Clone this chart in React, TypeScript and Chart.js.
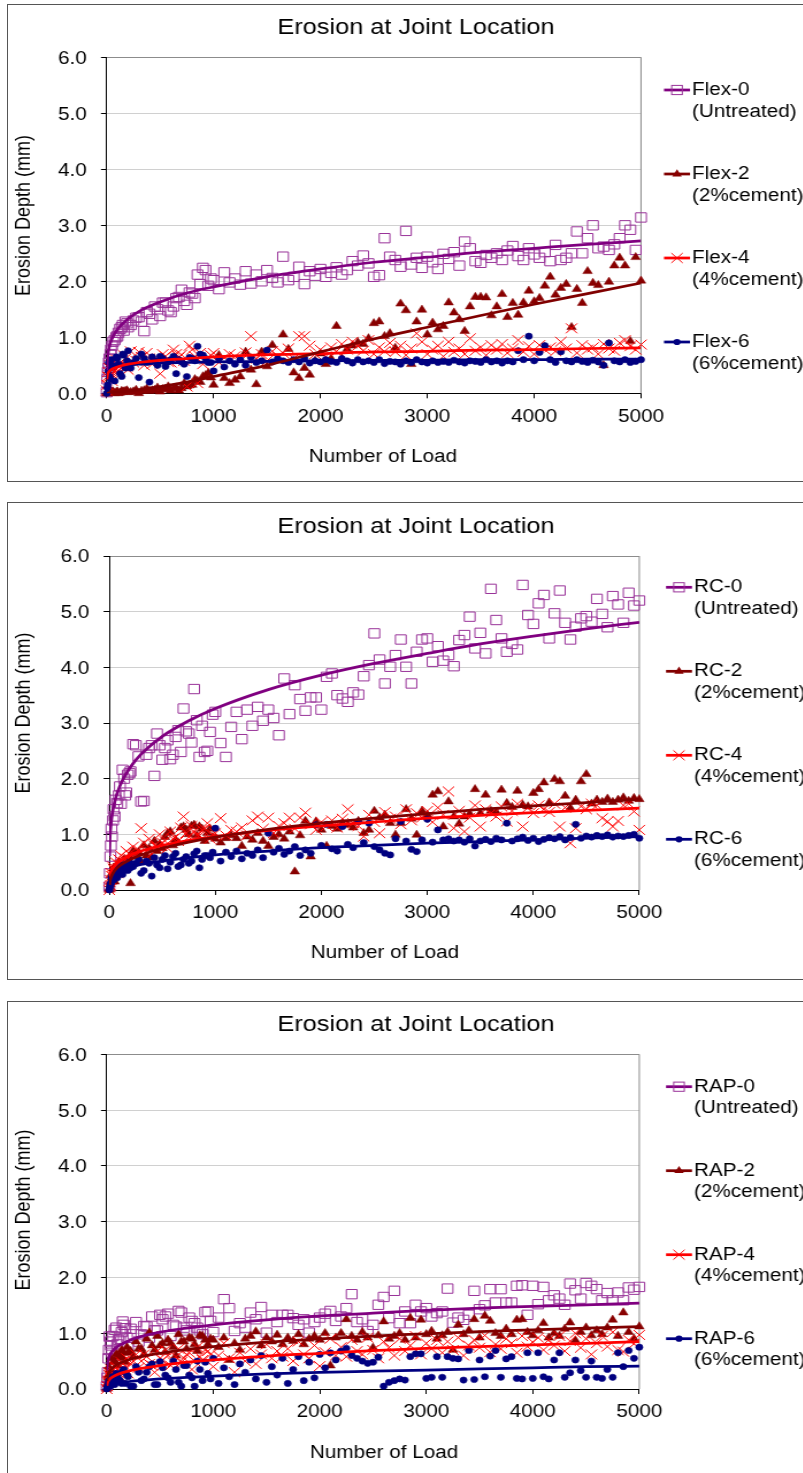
import React, { useEffect, useRef } from 'react';
import { Chart, registerables } from 'chart.js';

Chart.register(...registerables);

// ---------------- DATA ----------------
const LOADS = [
  0, 10, 25, 50, 75, 100, 125, 150, 175,
  200, 250, 300, 350, 400, 450, 500, 550, 600, 650,
  700, 750, 800, 850, 900, 950, 1000, 1050, 1100, 1150,
  1200, 1250, 1300, 1350, 1400, 1450, 1500, 1550, 1600, 1650,
  1700, 1750, 1800, 1850, 1900, 1950, 2000, 2050, 2100, 2150,
  2200, 2250, 2300, 2350, 2400, 2450, 2500, 2550, 2600, 2650,
  2700, 2750, 2800, 2850, 2900, 2950, 3000, 3050, 3100, 3150,
  3200, 3250, 3300, 3350, 3400, 3450, 3500, 3550, 3600, 3650,
  3700, 3750, 3800, 3850, 3900, 3950, 4000, 4050, 4100, 4150,
  4200, 4250, 4300, 4350, 4400, 4450, 4500, 4550, 4600, 4650,
  4700, 4750, 4800, 4850, 4900, 4950, 5000,
];

// extra (denser) early readings
const LOADS_EARLY = [5, 15, 20, 35, 40, 60, 90, 110, 140, 160, 190, 225, 275, 325, 375, 425, 475, 525, 575, 625, 675, 725, 775, 825, 875, 925, 975];

const TREND_LOADS = [1, 5, 10, 25, 50, 100, 200, 300, 500, 750, 1000, 1500, 2000, 2500, 3000, 3500, 4000, 4500, 5000];

const X_TICKS = [0, 1000, 2000, 3000, 4000, 5000];
const Y_TICKS = [0, 1, 2, 3, 4, 5, 6];

const TITLE = 'Erosion at Joint Location';
const X_TITLE = 'Number of Load';
const Y_TITLE = 'Erosion Depth (mm)';

// Panel 1 — Flex
const FLEX_0 = [
  0.02, 0.38, 0.62, 0.85, 0.95, 1.02, 1.15, 1.22, 1.28,
  1.18, 1.30, 1.36, 1.11, 1.42, 1.55, 1.38, 1.62, 1.45, 1.70,
  1.85, 1.58, 1.78, 2.12, 2.24, 1.92, 2.02, 1.86, 2.16, 1.98,
  2.05, 1.94, 2.18, 1.96, 2.12, 2.00, 2.20, 2.06, 1.98, 2.44,
  2.02, 2.08, 2.26, 1.95, 2.18, 2.10, 2.22, 2.08, 2.15, 2.25,
  2.12, 2.20, 2.36, 2.28, 2.46, 2.32, 2.08, 2.11, 2.77, 2.44,
  2.38, 2.26, 2.90, 2.30, 2.42, 2.24, 2.44, 2.34, 2.22, 2.49,
  2.40, 2.52, 2.28, 2.71, 2.59, 2.36, 2.33, 2.47, 2.42, 2.50,
  2.38, 2.55, 2.63, 2.45, 2.38, 2.59, 2.48, 2.42, 2.52, 2.36,
  2.65, 2.38, 2.42, 2.50, 2.89, 2.50, 2.77, 3.00, 2.59, 2.62,
  2.56, 2.66, 2.77, 3.00, 2.92, 2.56, 3.14,
];
const FLEX_0_EARLY = [0.25, 0.45, 0.55, 0.70, 0.78, 0.92, 1.00, 1.08, 1.18, 1.12, 1.25, 1.22, 1.35, 1.28, 1.45, 1.32, 1.50, 1.62, 1.48, 1.55, 1.72, 1.65, 1.80, 1.70, 1.95, 2.20, 2.05];
const FLEX_2 = [
  0.00, 0.00, 0.01, 0.02, 0.00, 0.03, 0.01, 0.02, 0.04,
  0.02, 0.03, 0.00, 0.05, 0.04, 0.06, 0.03, 0.08, 0.05, 0.10,
  0.09, 0.12, 0.15, 0.22, 0.30, 0.36, 0.15, 0.68, 0.27, 0.18,
  0.24, 0.30, 0.74, 0.42, 0.16, 0.74, 0.48, 0.86, 0.60, 1.05,
  0.79, 0.37, 0.27, 0.45, 0.33, 0.58, 0.71, 0.52, 0.62, 1.20,
  0.62, 0.79, 0.85, 0.91, 0.88, 0.98, 1.25, 1.28, 1.02, 1.07,
  0.81, 1.60, 1.48, 0.52, 1.28, 1.49, 1.05, 1.26, 1.14, 1.20,
  1.62, 1.44, 1.32, 1.11, 1.55, 1.72, 1.72, 1.71, 1.39, 1.55,
  1.77, 1.36, 1.61, 1.40, 1.62, 1.83, 1.64, 1.70, 1.92, 2.08,
  1.76, 1.88, 1.95, 1.18, 1.86, 1.61, 2.18, 1.97, 1.93, 0.50,
  1.99, 2.28, 2.42, 2.28, 0.93, 2.43, 2.01,
];
const FLEX_2_EARLY = [0.00, 0.01, 0.00, 0.02, 0.01, 0.03, 0.02, 0.00, 0.04, 0.03, 0.05, 0.02, 0.06, 0.04, 0.08, 0.05, 0.10, 0.07, 0.12, 0.09, 0.05, 0.18, 0.14, 0.25, 0.20, 0.32, 0.28];
const FLEX_4 = [
  0.05, 0.30, 0.45, 0.22, 0.40, 0.35, 0.55, 0.48, 0.62,
  0.42, 0.55, 0.74, 0.50, 0.62, 0.58, 0.35, 0.66, 0.55, 0.70,
  0.69, 0.12, 0.78, 0.18, 0.52, 0.60, 0.72, 0.55, 0.64, 0.70,
  0.66, 0.58, 0.73, 1.02, 0.62, 0.70, 0.58, 0.75, 0.66, 0.72,
  0.80, 0.62, 1.02, 1.02, 0.85, 0.70, 0.78, 0.66, 0.82, 0.75,
  0.88, 0.78, 0.92, 0.85, 0.76, 0.95, 0.70, 0.82, 0.75, 0.90,
  0.74, 0.85, 0.68, 0.80, 1.07, 0.92, 0.70, 0.78, 0.85, 0.66,
  0.92, 0.74, 0.80, 0.70, 0.98, 0.76, 0.82, 0.68, 0.86, 0.78,
  0.88, 0.72, 0.80, 0.95, 0.74, 0.84, 0.70, 0.86, 0.78, 0.82,
  0.75, 0.92, 0.80, 1.16, 0.72, 0.86, 0.78, 0.82, 0.70, 0.88,
  0.80, 0.76, 0.90, 0.95, 0.84, 0.78, 0.87,
];
const FLEX_4_EARLY = [0.15, 0.38, 0.28, 0.50, 0.35, 0.45, 0.60, 0.40, 0.52, 0.68, 0.48, 0.75, 0.58, 0.65, 0.72, 0.52, 0.62, 0.70, 0.56, 0.78, 0.64, 0.58, 0.85, 0.66, 0.72, 0.60, 0.68];
const FLEX_6 = [
  0.00, 0.15, 0.30, 0.50, 0.22, 0.62, 0.35, 0.70, 0.45,
  0.76, 0.55, 0.28, 0.62, 0.20, 0.58, 0.66, 0.48, 0.60, 0.35,
  0.56, 0.30, 0.62, 0.84, 0.68, 0.55, 0.40, 0.62, 0.47, 0.58,
  0.52, 0.60, 0.50, 0.64, 0.55, 0.58, 0.77, 0.56, 0.62, 0.58,
  0.55, 0.60, 0.56, 0.62, 0.54, 0.58, 0.56, 0.60, 0.57, 0.55,
  0.62, 0.58, 0.54, 0.60, 0.56, 0.58, 0.55, 0.60, 0.53, 0.57,
  0.56, 0.52, 0.58, 0.55, 0.60, 0.56, 0.54, 0.58, 0.55, 0.57,
  0.55, 0.59, 0.56, 0.54, 0.58, 0.57, 0.55, 0.60, 0.56, 0.58,
  0.54, 0.58, 0.56, 0.76, 0.60, 1.02, 0.58, 0.73, 0.85, 0.60,
  0.55, 0.74, 0.58, 0.56, 0.60, 0.57, 0.55, 0.59, 0.56, 0.50,
  0.90, 0.58, 0.56, 0.60, 0.55, 0.57, 0.60,
];
const FLEX_6_EARLY = [0.10, 0.40, 0.55, 0.25, 0.60, 0.48, 0.65, 0.52, 0.30, 0.68, 0.58, 0.45, 0.62, 0.70, 0.55, 0.65, 0.50, 0.62, 0.56, 0.66, 0.60, 0.52, 0.64, 0.58, 0.70, 0.62, 0.55];
const FLEX_0_TREND = [0.41, 0.58, 0.68, 0.84, 0.98, 1.14, 1.33, 1.46, 1.63, 1.79, 1.90, 2.08, 2.22, 2.34, 2.43, 2.52, 2.59, 2.66, 2.72];
const FLEX_2_TREND = [0.00, 0.00, 0.00, 0.01, 0.01, 0.02, 0.04, 0.06, 0.12, 0.20, 0.30, 0.50, 0.74, 0.97, 1.18, 1.39, 1.59, 1.78, 1.97];
const FLEX_4_TREND = [0.25, 0.31, 0.35, 0.39, 0.43, 0.47, 0.52, 0.55, 0.59, 0.62, 0.65, 0.69, 0.71, 0.74, 0.75, 0.77, 0.78, 0.80, 0.81];
const FLEX_6_TREND = [0.39, 0.42, 0.44, 0.46, 0.48, 0.50, 0.51, 0.52, 0.54, 0.55, 0.56, 0.57, 0.58, 0.59, 0.59, 0.60, 0.60, 0.61, 0.61];

// Panel 2 — RC
const RC_0 = [
  0.06, 0.60, 0.96, 1.32, 1.56, 1.86, 2.16, 1.70, 2.07,
  2.13, 2.60, 1.59, 2.43, 2.60, 2.81, 2.34, 2.69, 2.43, 2.87,
  3.26, 2.81, 3.61, 2.39, 2.48, 2.84, 3.20, 2.64, 2.39, 2.93,
  3.20, 2.71, 3.24, 2.95, 3.29, 3.04, 3.24, 3.09, 2.78, 3.80,
  3.16, 3.68, 3.43, 3.22, 3.46, 3.46, 3.24, 3.83, 3.89, 3.50,
  3.44, 3.38, 3.55, 3.51, 3.84, 4.04, 4.61, 4.14, 3.71, 4.01,
  4.22, 4.50, 4.01, 3.71, 4.28, 4.50, 4.52, 4.10, 4.38, 4.12,
  4.22, 4.02, 4.49, 4.58, 4.91, 4.34, 4.62, 4.25, 5.41, 4.85,
  4.52, 4.28, 4.42, 4.32, 5.48, 4.94, 4.78, 5.15, 5.30, 4.52,
  4.97, 5.38, 4.80, 4.50, 4.73, 4.88, 4.92, 4.82, 5.23, 4.96,
  4.72, 5.28, 5.13, 4.80, 5.34, 5.11, 5.20,
];
const RC_0_EARLY = [0.30, 0.80, 1.10, 1.25, 1.45, 1.62, 1.70, 1.55, 2.00, 1.75, 2.10, 2.62, 2.40, 1.60, 2.55, 2.05, 2.60, 2.55, 2.35, 2.75, 2.48, 2.85, 2.65, 3.05, 2.95, 2.50, 3.15];
const RC_2 = [
  0.00, 0.10, 0.22, 0.15, 0.35, 0.30, 0.42, 0.38, 0.45,
  0.12, 0.66, 0.50, 0.62, 0.58, 0.70, 0.75, 1.02, 0.80, 0.85,
  1.14, 1.00, 1.17, 1.14, 0.88, 1.10, 0.92, 0.85, 0.93, 0.98,
  0.93, 0.79, 0.96, 0.90, 1.02, 0.88, 0.79, 0.95, 1.00, 0.92,
  1.05, 0.33, 0.98, 1.24, 0.60, 1.23, 1.08, 0.79, 1.15, 1.10,
  1.20, 1.17, 1.12, 1.24, 1.02, 1.08, 1.42, 1.30, 1.35, 1.20,
  0.99, 1.20, 1.45, 1.28, 0.99, 1.42, 1.35, 1.71, 1.77, 1.14,
  1.59, 1.32, 1.19, 1.32, 1.37, 1.81, 1.38, 1.71, 1.42, 1.40,
  1.80, 1.56, 1.49, 1.78, 1.53, 1.50, 1.74, 1.81, 1.93, 1.57,
  1.99, 1.95, 1.69, 1.47, 1.62, 1.95, 2.08, 1.55, 1.62, 1.58,
  1.64, 1.58, 1.62, 1.66, 1.60, 1.65, 1.63,
];
const RC_2_EARLY = [0.05, 0.15, 0.28, 0.20, 0.40, 0.35, 0.50, 0.45, 0.55, 0.48, 0.60, 0.70, 0.68, 0.80, 0.75, 0.88, 0.82, 0.95, 1.05, 0.90, 1.12, 1.08, 1.15, 0.98, 1.10, 1.02, 0.95];
const RC_4 = [
  0.00, 0.08, 0.25, 0.35, 0.30, 0.45, 0.40, 0.52, 0.48,
  0.55, 0.62, 1.11, 0.70, 0.65, 0.78, 0.85, 0.75, 0.92, 0.88,
  1.32, 0.95, 1.05, 0.98, 1.10, 0.92, 1.02, 1.29, 0.98, 1.08,
  1.05, 1.12, 0.98, 1.25, 1.32, 1.10, 1.30, 1.02, 1.15, 1.20,
  1.30, 1.10, 1.30, 1.39, 1.18, 1.08, 1.22, 1.15, 1.25, 1.12,
  1.28, 1.45, 1.20, 1.15, 0.96, 1.35, 1.22, 1.02, 1.40, 1.28,
  1.32, 1.18, 1.45, 1.25, 1.38, 1.30, 1.42, 1.22, 1.48, 1.35,
  1.77, 1.11, 1.42, 1.05, 1.30, 1.52, 1.14, 1.45, 1.38, 1.32,
  1.50, 1.23, 1.42, 1.55, 1.14, 1.48, 1.38, 1.52, 1.45, 1.40,
  1.55, 1.14, 1.48, 0.84, 1.11, 1.50, 1.45, 1.55, 1.52, 1.29,
  1.23, 1.14, 1.24, 1.52, 1.55, 1.41, 1.08,
];
const RC_4_EARLY = [0.05, 0.18, 0.30, 0.42, 0.38, 0.50, 0.55, 0.62, 0.58, 0.70, 0.65, 0.78, 0.72, 0.85, 0.92, 0.80, 1.00, 0.88, 1.05, 0.95, 1.12, 1.02, 1.15, 0.98, 1.08, 1.20, 1.00];
const RC_6 = [
  0.00, 0.10, 0.18, 0.30, 0.22, 0.38, 0.28, 0.42, 0.35,
  0.40, 0.48, 0.30, 0.52, 0.25, 0.45, 0.55, 0.38, 0.60, 0.42,
  0.55, 0.48, 0.65, 0.40, 0.62, 0.58, 1.11, 0.52, 0.68, 0.60,
  0.70, 0.56, 0.66, 0.62, 0.72, 0.58, 1.02, 0.68, 0.75, 0.64,
  0.70, 0.78, 0.62, 0.72, 0.66, 1.17, 0.80, 1.18, 0.74, 0.70,
  1.14, 0.82, 0.76, 1.23, 0.85, 1.20, 0.78, 0.72, 0.66, 0.63,
  0.92, 1.23, 0.88, 0.73, 0.69, 0.90, 1.27, 0.86, 1.08, 0.90,
  0.92, 0.88, 0.90, 0.86, 0.92, 0.79, 0.88, 0.91, 0.87, 0.93,
  0.90, 1.20, 0.88, 0.92, 0.95, 0.89, 0.93, 0.87, 0.91, 0.94,
  0.92, 0.96, 0.90, 0.94, 1.18, 0.93, 0.97, 0.95, 0.98, 0.96,
  0.99, 0.95, 0.97, 0.96, 0.98, 1.00, 0.93,
];
const RC_6_EARLY = [0.05, 0.12, 0.22, 0.28, 0.18, 0.35, 0.42, 0.30, 0.45, 0.38, 0.50, 0.42, 0.55, 0.35, 0.48, 0.58, 0.40, 0.62, 0.50, 0.66, 0.45, 0.60, 0.52, 0.70, 0.55, 0.62, 0.68];
const RC_0_TREND = [0.61, 0.91, 1.07, 1.34, 1.58, 1.87, 2.21, 2.44, 2.76, 3.04, 3.26, 3.60, 3.86, 4.07, 4.25, 4.42, 4.56, 4.69, 4.81];
const RC_2_TREND = [0.09, 0.16, 0.20, 0.27, 0.35, 0.44, 0.55, 0.63, 0.75, 0.86, 0.95, 1.09, 1.20, 1.29, 1.37, 1.45, 1.51, 1.57, 1.63];
const RC_4_TREND = [0.15, 0.24, 0.28, 0.36, 0.43, 0.52, 0.63, 0.70, 0.80, 0.89, 0.96, 1.07, 1.15, 1.22, 1.29, 1.34, 1.39, 1.43, 1.47];
const RC_6_TREND = [0.10, 0.16, 0.19, 0.24, 0.29, 0.34, 0.41, 0.46, 0.52, 0.58, 0.63, 0.70, 0.76, 0.80, 0.84, 0.87, 0.90, 0.93, 0.96];

// Panel 3 — RAP
const RAP_0 = [
  0.05, 0.30, 0.94, 0.65, 1.06, 0.80, 0.90, 1.21, 1.09,
  0.75, 0.98, 0.85, 1.13, 0.92, 1.05, 1.33, 1.30, 0.95, 1.12,
  1.37, 1.05, 1.22, 1.10, 0.98, 1.39, 1.02, 1.28, 1.61, 1.45,
  1.04, 1.18, 1.10, 1.37, 1.25, 1.47, 1.01, 1.33, 1.20, 1.33,
  1.33, 1.27, 1.15, 1.25, 1.01, 1.20, 1.28, 1.35, 1.40, 1.22,
  1.30, 1.45, 1.70, 1.20, 1.25, 1.04, 1.15, 1.51, 1.65, 1.27,
  1.76, 1.18, 1.39, 1.18, 1.51, 1.39, 1.45, 1.30, 1.36, 1.39,
  1.80, 1.19, 1.28, 1.24, 1.33, 1.76, 1.43, 1.50, 1.79, 1.55,
  1.79, 1.55, 1.55, 1.85, 1.86, 1.33, 1.85, 1.52, 1.83, 1.59,
  1.68, 1.62, 1.51, 1.89, 1.77, 1.62, 1.90, 1.85, 1.79, 1.59,
  1.72, 1.59, 1.73, 1.59, 1.82, 1.78, 1.83,
];
const RAP_0_EARLY = [0.20, 0.55, 0.70, 0.85, 0.78, 0.95, 1.10, 0.88, 1.02, 1.15, 0.92, 1.08, 1.20, 0.98, 1.12, 1.30, 1.05, 1.25, 1.35, 1.15, 1.40, 1.10, 1.28, 1.18, 1.05, 1.38, 1.22];
const RAP_2 = [
  0.00, 0.20, 0.35, 0.28, 0.50, 0.42, 0.60, 0.55, 0.48,
  0.65, 0.58, 0.72, 0.62, 1.01, 0.70, 0.78, 0.66, 0.82, 0.60,
  0.85, 0.72, 0.90, 0.68, 0.95, 0.80, 0.88, 0.75, 0.92, 0.52,
  0.82, 0.70, 0.90, 0.95, 1.03, 0.78, 0.92, 0.85, 0.97, 0.80,
  0.92, 0.86, 0.98, 0.80, 0.90, 0.95, 0.88, 1.00, 0.42, 0.92,
  1.00, 1.25, 0.95, 0.88, 1.02, 0.92, 0.74, 0.96, 1.21, 0.90,
  0.95, 1.00, 0.88, 1.27, 0.92, 1.24, 0.98, 1.04, 0.90, 0.96,
  1.02, 0.70, 1.15, 0.98, 1.05, 1.25, 0.92, 1.31, 1.22, 1.00,
  0.95, 1.08, 0.98, 1.24, 1.25, 1.02, 0.96, 1.05, 1.18, 0.92,
  1.00, 0.95, 1.08, 1.19, 0.87, 1.02, 1.10, 0.96, 1.05, 0.98,
  1.10, 1.24, 0.95, 1.37, 1.02, 0.90, 1.12,
];
const RAP_2_EARLY = [0.10, 0.25, 0.40, 0.32, 0.55, 0.48, 0.62, 0.58, 0.70, 0.65, 0.75, 0.68, 0.85, 0.72, 0.90, 0.78, 0.95, 0.82, 0.88, 0.75, 0.98, 0.85, 0.92, 0.80, 0.96, 0.88, 0.90];
const RAP_4 = [
  0.00, 0.12, 0.25, 0.18, 0.40, 0.30, 0.22, 0.45, 0.35,
  0.28, 0.50, 0.38, 0.62, 0.45, 0.30, 0.55, 0.70, 0.42, 0.58,
  0.48, 0.62, 0.35, 0.75, 0.52, 0.68, 0.40, 0.60, 0.82, 0.55,
  0.30, 0.65, 0.50, 0.72, 0.45, 0.62, 0.80, 0.55, 0.68, 0.58,
  0.72, 0.50, 0.85, 0.62, 0.55, 0.78, 0.41, 0.66, 0.90, 0.60,
  0.75, 0.58, 0.88, 0.68, 0.62, 0.92, 0.70, 0.55, 0.85, 0.74,
  0.60, 0.90, 0.68, 0.78, 0.95, 0.62, 0.82, 0.72, 0.88, 0.65,
  0.85, 0.70, 0.92, 0.60, 0.78, 0.88, 0.74, 0.96, 0.66, 0.80,
  0.72, 0.90, 0.82, 0.65, 0.95, 0.76, 0.84, 0.92, 0.70, 0.88,
  0.78, 0.95, 0.68, 0.86, 1.00, 0.74, 0.90, 0.62, 0.82, 0.95,
  0.76, 1.02, 0.70, 0.67, 0.88, 0.81, 0.97,
];
const RAP_4_EARLY = [0.05, 0.15, 0.30, 0.22, 0.35, 0.28, 0.40, 0.32, 0.48, 0.38, 0.55, 0.45, 0.62, 0.50, 0.58, 0.42, 0.68, 0.52, 0.60, 0.48, 0.72, 0.55, 0.65, 0.50, 0.58, 0.70, 0.62];
const RAP_6 = [
  0.00, 0.05, 0.12, 0.20, 0.08, 0.25, 0.15, 0.32, 0.10,
  0.22, 0.05, 0.30, 0.18, 0.40, 0.08, 0.49, 0.25, 0.12, 0.35,
  0.05, 0.42, 0.20, 0.50, 0.15, 0.28, 0.55, 0.10, 0.38, 0.22,
  0.08, 0.45, 0.30, 0.52, 0.18, 0.60, 0.12, 0.40, 0.25, 0.55,
  0.10, 0.35, 0.58, 0.15, 0.48, 0.20, 0.62, 0.38, 0.65, 0.52,
  0.68, 0.73, 0.60, 0.55, 0.50, 0.46, 0.48, 0.57, 0.05, 0.12,
  0.15, 0.18, 0.16, 0.58, 0.63, 0.63, 0.19, 0.21, 0.58, 0.21,
  0.58, 0.55, 0.54, 0.16, 0.69, 0.17, 0.52, 0.22, 0.59, 0.69,
  0.21, 0.54, 0.58, 0.19, 0.18, 0.65, 0.19, 0.65, 0.22, 0.18,
  0.52, 0.65, 0.21, 0.29, 0.52, 0.33, 0.21, 0.50, 0.21, 0.19,
  0.35, 0.21, 0.65, 0.40, 0.69, 0.55, 0.75,
];
const RAP_6_EARLY = [0.02, 0.08, 0.15, 0.05, 0.22, 0.12, 0.28, 0.18, 0.10, 0.35, 0.25, 0.05, 0.40, 0.15, 0.30, 0.45, 0.08, 0.38, 0.20, 0.50, 0.12, 0.42, 0.25, 0.05, 0.35, 0.48, 0.18];
const RAP_0_TREND = [0.33, 0.44, 0.50, 0.59, 0.67, 0.76, 0.86, 0.93, 1.02, 1.09, 1.15, 1.24, 1.31, 1.36, 1.41, 1.45, 1.48, 1.51, 1.54];
const RAP_2_TREND = [0.14, 0.21, 0.25, 0.31, 0.37, 0.44, 0.52, 0.57, 0.64, 0.71, 0.76, 0.84, 0.90, 0.95, 0.99, 1.03, 1.06, 1.09, 1.12];
const RAP_4_TREND = [0.06, 0.10, 0.13, 0.17, 0.21, 0.26, 0.32, 0.36, 0.42, 0.48, 0.52, 0.59, 0.64, 0.69, 0.73, 0.76, 0.79, 0.82, 0.85];
const RAP_6_TREND = [0.02, 0.03, 0.04, 0.06, 0.08, 0.10, 0.13, 0.15, 0.18, 0.21, 0.23, 0.27, 0.30, 0.32, 0.34, 0.36, 0.38, 0.40, 0.41];

const SUBLABELS = ['(Untreated)', '(2%cement)', '(4%cement)', '(6%cement)'];

// ---------------- STYLE ----------------
const STRETCH = 1.15; // the reference is horizontally stretched
const FONT = "'Liberation Sans', Arial, Helvetica, sans-serif";
const CANVAS_W = 720; // internal px (displayed at 828 px)
const CANVAS_H = 476;
const PANEL_W = 830;
const PANEL_H = 478;

const STYLES = [
  { point: 'rect', radius: 6.6, border: '#993399', fill: 'rgba(0,0,0,0)', bw: 1, line: '#800080' },
  { point: 'triangle', radius: 4.8, border: '#880000', fill: '#880000', bw: 0.5, line: '#800000' },
  { point: 'crossRot', radius: 7, border: '#ff0000', fill: '#ff0000', bw: 1, line: '#ff0000' },
  { point: 'circle', radius: 3.1, border: '#000080', fill: '#000080', bw: 0.6, line: '#000080' },
];

const PANELS = [
  {
    top: 4, plotLeft: 106.7, plotRight: 641, plotTop: 57.3, plotBottom: 393.3,
    titleY: 28, legendY: 90, legendX: 664, xTitleX: 383, xTitleY: 456.7, yTitleY: 215.5,
    names: ['Flex-0', 'Flex-2', 'Flex-4', 'Flex-6'],
    values: [FLEX_0, FLEX_2, FLEX_4, FLEX_6],
    early: [FLEX_0_EARLY, FLEX_2_EARLY, FLEX_4_EARLY, FLEX_6_EARLY],
    trends: [FLEX_0_TREND, FLEX_2_TREND, FLEX_4_TREND, FLEX_6_TREND],
  },
  {
    top: 502, plotLeft: 109.3, plotRight: 639.3, plotTop: 556, plotBottom: 890,
    titleY: 527.3, legendY: 587.3, legendX: 666, xTitleX: 385, xTitleY: 953.3, yTitleY: 713,
    names: ['RC-0', 'RC-2', 'RC-4', 'RC-6'],
    values: [RC_0, RC_2, RC_4, RC_6],
    early: [RC_0_EARLY, RC_2_EARLY, RC_4_EARLY, RC_6_EARLY],
    trends: [RC_0_TREND, RC_2_TREND, RC_4_TREND, RC_6_TREND],
  },
  {
    top: 1001, plotLeft: 106.7, plotRight: 639.3, plotTop: 1054.3, plotBottom: 1389,
    titleY: 1025, legendY: 1086.7, legendX: 666, xTitleX: 384, xTitleY: 1453.3, yTitleY: 1210,
    names: ['RAP-0', 'RAP-2', 'RAP-4', 'RAP-6'],
    values: [RAP_0, RAP_2, RAP_4, RAP_6],
    early: [RAP_0_EARLY, RAP_2_EARLY, RAP_4_EARLY, RAP_6_EARLY],
    trends: [RAP_0_TREND, RAP_2_TREND, RAP_4_TREND, RAP_6_TREND],
  },
];

function drawLegendMarker(ctx: CanvasRenderingContext2D, k: number, x: number, y: number) {
  const st = STYLES[k];
  ctx.save();
  ctx.strokeStyle = st.border;
  ctx.fillStyle = st.fill;
  ctx.lineWidth = 1;
  if (st.point === 'rect') {
    const h = 4.6;
    ctx.strokeRect(x - h, y - h, 2 * h, 2 * h);
  } else if (st.point === 'triangle') {
    const r = st.radius;
    ctx.beginPath();
    ctx.moveTo(x, y - r);
    ctx.lineTo(x + r * 0.866, y + r * 0.5);
    ctx.lineTo(x - r * 0.866, y + r * 0.5);
    ctx.closePath();
    ctx.fill();
  } else if (st.point === 'crossRot') {
    const o = st.radius * 0.707;
    ctx.beginPath();
    ctx.moveTo(x - o, y - o); ctx.lineTo(x + o, y + o);
    ctx.moveTo(x - o, y + o); ctx.lineTo(x + o, y - o);
    ctx.stroke();
  } else {
    ctx.beginPath();
    ctx.arc(x, y, st.radius, 0, Math.PI * 2);
    ctx.fill();
  }
  ctx.restore();
}

function Panel({ cfg }: { cfg: any }) {
  const ref = useRef<HTMLCanvasElement>(null);

  useEffect(() => {
    const canvas = ref.current;
    if (!canvas) return;
    const originY = cfg.top + 1;
    const ix = (px: number) => (px - 8) / STRETCH;
    const iy = (py: number) => py - originY;
    const left = ix(cfg.plotLeft);
    const right = ix(cfg.plotRight);
    const top = iy(cfg.plotTop);
    const bottom = iy(cfg.plotBottom);
    const XH = 40;

    const datasets: any[] = [];
    cfg.trends.forEach((tr: number[], k: number) => {
      datasets.push({
        label: cfg.names[k] + ' trend',
        data: TREND_LOADS.map((x, i) => ({ x, y: tr[i] })),
        showLine: true,
        borderColor: STYLES[k].line,
        backgroundColor: STYLES[k].line,
        borderWidth: 2.75,
        pointRadius: 0,
        cubicInterpolationMode: 'monotone',
        fill: false,
        order: k,
      });
    });
    cfg.values.forEach((vals: number[], k: number) => {
      const st = STYLES[k];
      const early: number[] = cfg.early[k];
      datasets.push({
        label: cfg.names[k],
        data: LOADS.map((x, i) => ({ x, y: vals[i] })).concat(
          LOADS_EARLY.map((x, i) => ({ x, y: early[i] }))
        ),
        showLine: false,
        pointStyle: st.point,
        pointRadius: st.radius,
        borderColor: st.border,
        backgroundColor: st.fill,
        borderWidth: st.bw,
        order: 10 + (3 - k),
        clip: false,
      });
    });

    const decor = {
      id: 'decor',
      beforeDatasetsDraw(chart: any) {
        const { ctx, chartArea: a } = chart;
        ctx.save();
        ctx.strokeStyle = '#8c8c8c';
        ctx.lineWidth = 1;
        ctx.beginPath();
        ctx.moveTo(a.right, a.top);
        ctx.lineTo(a.right, a.bottom);
        ctx.stroke();
        ctx.restore();
      },
      afterDraw(chart: any) {
        const ctx: CanvasRenderingContext2D = chart.ctx;
        ctx.save();
        ctx.fillStyle = '#000';
        ctx.textBaseline = 'middle';
        ctx.font = `22px ${FONT}`;
        ctx.textAlign = 'center';
        ctx.fillText(TITLE, ix(416), iy(cfg.titleY));
        ctx.font = `18px ${FONT}`;
        ctx.fillText(X_TITLE, ix(cfg.xTitleX), iy(cfg.xTitleY));
        ctx.save();
        ctx.translate(ix(24.7), iy(cfg.yTitleY));
        ctx.rotate(-Math.PI / 2);
        ctx.fillText(Y_TITLE, 0, 0);
        ctx.restore();
        for (let k = 0; k < 4; k++) {
          const y = iy(cfg.legendY + 84 * k);
          const x1 = ix(cfg.legendX);
          const x2 = ix(cfg.legendX + 26);
          ctx.save();
          ctx.strokeStyle = STYLES[k].line;
          ctx.lineWidth = 2.75;
          ctx.beginPath();
          ctx.moveTo(x1, y);
          ctx.lineTo(x2, y);
          ctx.stroke();
          ctx.restore();
          drawLegendMarker(ctx, k, ix(cfg.legendX + 13), y);
          ctx.textAlign = 'left';
          ctx.fillStyle = '#000';
          ctx.font = `18px ${FONT}`;
          ctx.fillText(cfg.names[k], ix(cfg.legendX + 28), y);
          ctx.fillText(SUBLABELS[k], ix(cfg.legendX + 28), y + 21.7);
        }
        ctx.restore();
      },
    };

    const chart = new Chart(canvas, {
      type: 'scatter',
      data: { datasets },
      options: {
        responsive: false,
        devicePixelRatio: 1,
        animation: false,
        events: [],
        layout: {
          padding: { left: 0, top, right: CANVAS_W - right, bottom: CANVAS_H - bottom - XH },
        },
        plugins: {
          legend: { display: false },
          title: { display: false },
          tooltip: { enabled: false },
        },
        scales: {
          x: {
            type: 'linear',
            min: 0,
            max: 5000,
            afterBuildTicks: (s: any) => { s.ticks = X_TICKS.map((v) => ({ value: v })); },
            afterFit: (s: any) => { s.height = XH; },
            grid: { drawOnChartArea: false, drawTicks: true, tickLength: 5, tickColor: '#000', color: '#000' },
            border: { display: true, color: '#000', width: 1 },
            ticks: {
              font: { family: FONT, size: 18 },
              color: '#000',
              padding: 7.6,
              maxRotation: 0,
              autoSkip: false,
              callback: (v: any) => String(v),
            },
          },
          y: {
            type: 'linear',
            min: 0,
            max: 6,
            afterBuildTicks: (s: any) => { s.ticks = Y_TICKS.map((v) => ({ value: v })); },
            afterFit: (s: any) => { s.width = left; },
            grid: {
              color: (c: any) => (c.tick && c.tick.value === 6 ? '#8c8c8c' : '#d0d0d0'),
              tickColor: '#000',
              tickLength: 5,
              drawTicks: true,
            },
            border: { display: true, color: '#000', width: 1 },
            ticks: {
              font: { family: FONT, size: 18 },
              color: '#000',
              padding: 12.4,
              labelOffset: 1.5,
              callback: (v: any) => Number(v).toFixed(1),
            },
          },
        },
      } as any,
      plugins: [decor],
    } as any);

    return () => chart.destroy();
  }, [cfg]);

  return (
    <div
      style={{
        position: 'absolute',
        left: 7,
        top: cfg.top,
        width: PANEL_W,
        height: PANEL_H,
        border: '1px solid #555',
        boxSizing: 'border-box',
        background: '#fff',
      }}
    >
      <canvas
        ref={ref}
        width={CANVAS_W}
        height={CANVAS_H}
        style={{ position: 'absolute', left: 0, top: 0, width: PANEL_W - 2, height: CANVAS_H }}
      />
    </div>
  );
}

export default function App() {
  return (
    <div
      style={{
        position: 'absolute',
        left: 0,
        top: 0,
        width: 803,
        height: 1473,
        overflow: 'hidden',
        background: '#fff',
      }}
    >
      {PANELS.map((p, i) => (
        <Panel key={i} cfg={p} />
      ))}
    </div>
  );
}
